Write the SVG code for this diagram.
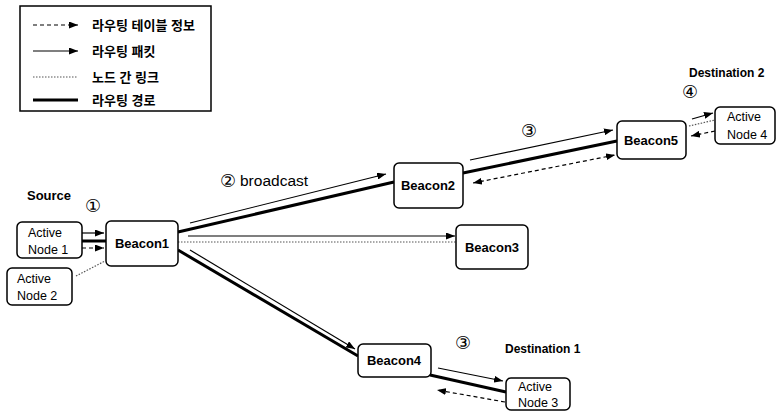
<svg xmlns="http://www.w3.org/2000/svg" width="777" height="413" viewBox="0 0 777 413">
<defs>
<style>
.box{fill:#fff;stroke:#000;stroke-width:1.5}
.bl{font-family:"Liberation Sans",Arial,sans-serif;font-weight:bold;font-size:13px;text-anchor:middle;fill:#000}
.al{font-family:"Liberation Sans",Arial,sans-serif;font-size:12.5px;fill:#000}
.lb{font-family:"Liberation Sans",Arial,sans-serif;font-weight:bold;font-size:12px;fill:#000}
.ko{font-family:"Liberation Sans","Noto Sans CJK KR",sans-serif;font-weight:bold;font-size:13px;fill:#000}
.num{font-family:"DejaVu Sans","Noto Sans CJK KR",sans-serif;font-size:18px;text-anchor:middle;fill:#000}
.thin{stroke:#000;stroke-width:1.2;fill:none}
.thick{stroke:#000;stroke-width:3;fill:none}
.dash{stroke:#000;stroke-width:1.2;stroke-dasharray:4 3;fill:none}
.dot{stroke:#555;stroke-width:1.2;stroke-dasharray:1.5 1.5;fill:none}
</style>
<marker id="ah" markerUnits="userSpaceOnUse" markerWidth="9" markerHeight="7" refX="9" refY="3.5" orient="auto-start-reverse"><path d="M0,0 L9,3.5 L0,7 z" fill="#000"/></marker>
</defs>
<rect width="777" height="413" fill="#fff"/>

<g id="legend">
<rect x="20" y="6" width="191" height="105" fill="#fff" stroke="#000" stroke-width="1.5"/>
<line class="dash" x1="33" y1="25" x2="78" y2="25" marker-end="url(#ah)"/>
<line class="thin" x1="33" y1="51" x2="78" y2="51" marker-end="url(#ah)"/>
<line class="dot" x1="33" y1="77" x2="78" y2="77"/>
<line class="thick" x1="33" y1="100" x2="78" y2="100"/>
<text class="ko" x="92" y="30">라우팅 테이블 정보</text>
<text class="ko" x="92" y="56">라우팅 패킷</text>
<text class="ko" x="92" y="82">노드 간 링크</text>
<text class="ko" x="92" y="105">라우팅 경로</text>
</g>

<g id="connectors">
<line class="thin" x1="82" y1="233" x2="104" y2="233" marker-end="url(#ah)"/>
<line class="thick" x1="82" y1="241" x2="106" y2="241"/>
<line class="dash" x1="82" y1="248" x2="104" y2="248" marker-end="url(#ah)"/>
<line class="dot" x1="76" y1="276" x2="105" y2="261"/>
<line class="thin" x1="190" y1="223" x2="386" y2="174" marker-end="url(#ah)"/>
<line class="thick" x1="178" y1="232" x2="394" y2="182"/>
<line class="thin" x1="188" y1="236" x2="455" y2="236" marker-end="url(#ah)"/>
<line class="dot" x1="178" y1="242" x2="456" y2="242"/>
<line class="thin" x1="190" y1="250" x2="355" y2="349" marker-end="url(#ah)"/>
<line class="thick" x1="178" y1="250" x2="358" y2="356"/>
<line class="thin" x1="470" y1="160" x2="613" y2="130" marker-end="url(#ah)"/>
<line class="thick" x1="463" y1="173" x2="617" y2="141"/>
<line class="dash" x1="473" y1="183" x2="615" y2="155" marker-start="url(#ah)" marker-end="url(#ah)"/>
<line class="thin" x1="692" y1="119" x2="713" y2="113" marker-end="url(#ah)"/>
<line class="dot" x1="689" y1="126" x2="715" y2="120"/>
<line class="dash" x1="715" y1="131" x2="691" y2="136" marker-end="url(#ah)"/>
<line class="thin" x1="438" y1="368" x2="503" y2="381" marker-end="url(#ah)"/>
<line class="thick" x1="430" y1="375" x2="506" y2="392"/>
<line class="dash" x1="505" y1="402" x2="437" y2="390" marker-end="url(#ah)"/>
</g>

<g id="activeNode1">
<rect class="box" x="17" y="222" width="65" height="36" rx="5"/>
<text class="al" x="28" y="237">Active</text>
<text class="al" x="28" y="254">Node 1</text>
</g>
<g id="activeNode2">
<rect class="box" x="7" y="268" width="65" height="37" rx="5"/>
<text class="al" x="17" y="283">Active</text>
<text class="al" x="17" y="300">Node 2</text>
</g>
<g id="beacon1">
<rect class="box" x="106" y="221" width="72" height="45" rx="5"/>
<text class="bl" x="142" y="248">Beacon1</text>
</g>
<g id="beacon2">
<rect class="box" x="394" y="163" width="69" height="45" rx="5"/>
<text class="bl" x="428" y="190">Beacon2</text>
</g>
<g id="beacon3">
<rect class="box" x="456" y="225" width="72" height="44" rx="5"/>
<text class="bl" x="492" y="252">Beacon3</text>
</g>
<g id="beacon5">
<rect class="box" x="617" y="121" width="69" height="38" rx="5"/>
<text class="bl" x="651" y="145">Beacon5</text>
</g>
<g id="beacon4">
<rect class="box" x="358" y="344" width="73" height="33" rx="5"/>
<text class="bl" x="394" y="365">Beacon4</text>
</g>
<g id="activeNode4">
<rect class="box" x="715" y="107" width="60" height="37" rx="5"/>
<text class="al" x="727" y="121">Active</text>
<text class="al" x="727" y="139">Node 4</text>
</g>
<g id="activeNode3">
<rect class="box" x="506" y="378" width="64" height="32" rx="5"/>
<text class="al" x="518" y="391">Active</text>
<text class="al" x="518" y="407">Node 3</text>
</g>

<g id="labels">
<text class="lb" x="27" y="200" style="font-size:13px">Source</text>
<text class="num" x="93" y="212">①</text>
<text class="num" x="228" y="187">②</text>
<text class="al" x="240" y="186" style="font-size:15.5px">broadcast</text>
<text class="num" x="529" y="137">③</text>
<text class="num" x="690" y="98">④</text>
<text class="num" x="463" y="349">③</text>
<text class="lb" x="689" y="77">Destination 2</text>
<text class="lb" x="505" y="353">Destination 1</text>
</g>
</svg>
